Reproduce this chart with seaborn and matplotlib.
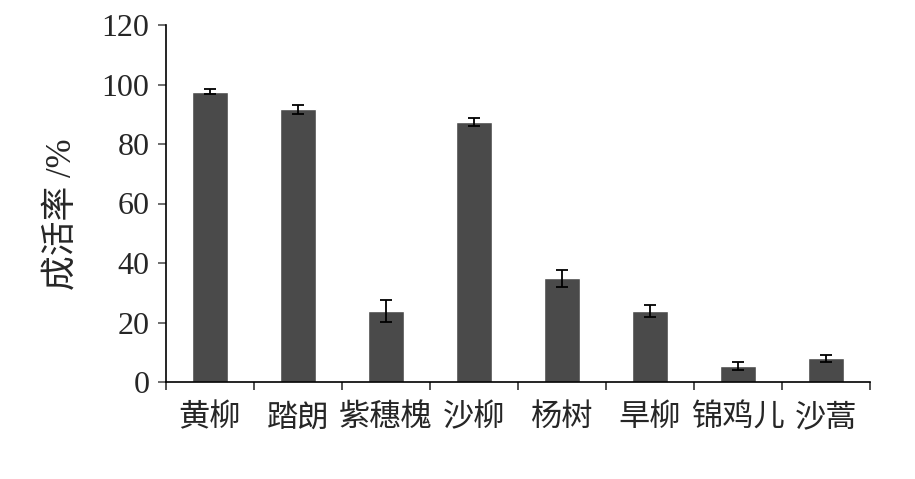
import matplotlib
matplotlib.use("Agg")
import matplotlib.pyplot as plt
import seaborn as sns
import pandas as pd
import numpy as np

categories = ["黄柳", "踏朗", "紫穗槐", "沙柳", "杨树", "旱柳", "锦鸡儿", "沙蒿"]
values = [97.6, 91.6, 23.9, 87.4, 34.8, 23.9, 5.3, 7.9]
errors = [0.8, 1.4, 3.6, 1.2, 2.7, 1.9, 1.3, 1.2]
yticks = [0, 20, 40, 60, 80, 100, 120]

sns.set_theme(style="white")
plt.rcParams['font.family'] = ['Liberation Serif', 'Noto Sans CJK SC', 'DejaVu Sans']

df = pd.DataFrame({"cat": categories, "val": values, "err": errors})

fig = plt.figure(figsize=(9.15, 4.79), dpi=100)
ax = fig.add_axes([166/915, 1-382/479, (870-166)/915, (382-25)/479])

sns.barplot(data=df, x="cat", y="val", color="#4a4a4a", saturation=1, width=0.41, ax=ax, errorbar=None)
ax.errorbar(np.arange(len(categories)), df["val"], yerr=df["err"], fmt="none",
            ecolor="black", elinewidth=1.3, capsize=4, capthick=1.3)

ax.set_xlim(-0.5, len(categories) - 0.5)
ax.set_ylim(0, 120)
ax.set_yticks(yticks)
ax.set_yticklabels([str(t) for t in yticks], fontsize=23)
ax.set_xticks(np.arange(len(categories)))
ax.set_xticklabels(categories, fontsize=22.5, family=['Noto Sans CJK SC'])
ax.set_xticks(np.arange(-0.5, len(categories)), minor=True)
ax.tick_params(axis='x', which='major', bottom=False, length=0, pad=14)
ax.tick_params(axis='x', which='minor', bottom=True, length=6, width=1.2, color='#333333', direction='out')
ax.tick_params(axis='y', left=True, length=6, width=1.2, color='#555555', direction='out', pad=6)
ax.set_xlabel("")
ax.set_ylabel("成活率 /%", fontsize=25)
ax.yaxis.set_label_coords(-0.124, 0.47)

for s in ["top", "right"]:
    ax.spines[s].set_visible(False)
for s in ["left", "bottom"]:
    ax.spines[s].set_color("black")
    ax.spines[s].set_linewidth(1.2)

fig.savefig("out.png", dpi=100)
